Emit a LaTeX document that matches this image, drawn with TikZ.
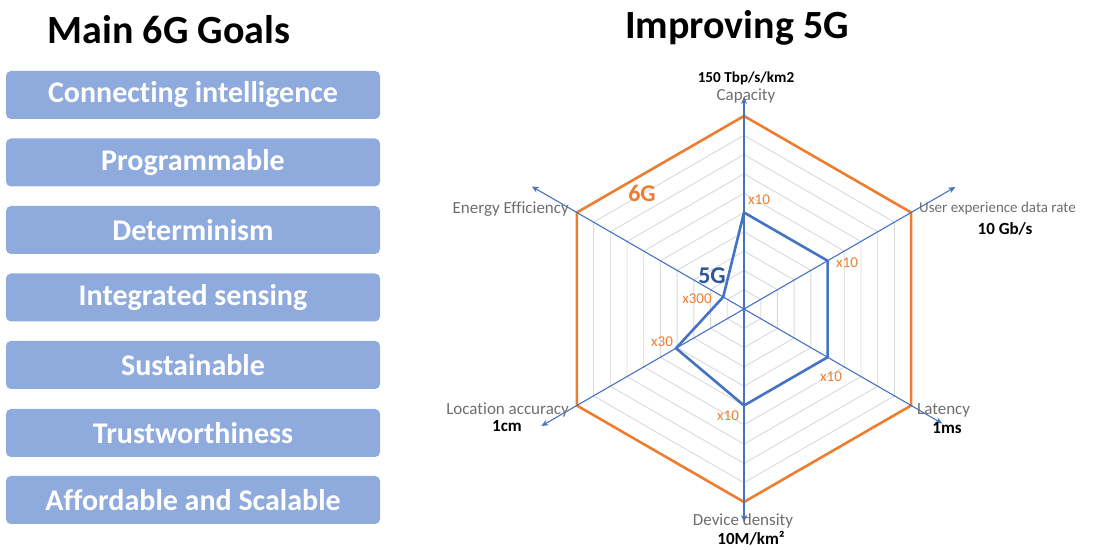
\documentclass[tikz,border=0pt]{standalone}
\usepackage{fontspec}
\setmainfont{Carlito}[Ligatures=NoCommon]
\usetikzlibrary{arrows.meta,calc}
\definecolor{boxblue}{HTML}{8FAADC}
\definecolor{axblue}{HTML}{4472C4}
\definecolor{fgorange}{HTML}{ED7D31}
\definecolor{gridgray}{HTML}{D9D9D9}
\definecolor{lblgray}{HTML}{6E6E6E}
\definecolor{darkblue}{HTML}{2F5597}
\tikzset{
  goal/.style={fill=boxblue, rounded corners=5pt, minimum width=374pt, minimum height=48pt,
    text=white, font=\fontsize{30}{32}\selectfont\bfseries, inner sep=0pt},
  title/.style={font=\fontsize{40}{44}\selectfont\bfseries, text=black},
  axlabel/.style={font=\fontsize{17}{19}\selectfont, text=lblgray, inner sep=0pt},
  vallabel/.style={font=\fontsize{17}{19}\selectfont\bfseries, text=black, inner sep=0pt},
  mult/.style={font=\fontsize{15}{17}\selectfont, text=fgorange, inner sep=0pt},
  axisline/.style={draw=axblue, line width=1.1pt, -{Stealth[length=7pt,width=6pt]}},
  gridline/.style={draw=gridgray, line width=0.9pt},
}
\begin{document}
\begin{tikzpicture}[x=1pt,y=1pt]
\useasboundingbox (0,0) rectangle (1106,549);
% titles
\node[title] (t1) at (169,519) {Main 6G Goals};
\node[title] (t2) at (737,521) {Improving 5G};
% goal boxes
\node[goal] (g1) at (193,454) {Connecting intelligence};
\node[goal] (g2) at (193,386.5) {Programmable};
\node[goal] (g3) at (193,319) {Determinism};
\node[goal] (g4) at (193,251.5) {Integrated sensing};
\node[goal] (g5) at (193,184) {Sustainable};
\node[goal] (g6) at (193,116) {Trustworthiness};
\node[goal] (g7) at (193,49) {Affordable and Scalable};
% radar
\coordinate (c) at (744,240);
\foreach \k in {1,...,9}{
  \draw[gridline] ($(c)+(90:\k*19.3)$) \foreach \a in {30,-30,-90,-150,-210}{ -- ($(c)+(\a:\k*19.3)$)} -- cycle;
}
\draw[fgorange, line width=2.6pt, line join=miter] ($(c)+(90:193)$) \foreach \a in {30,-30,-90,-150,-210}{ -- ($(c)+(\a:193)$)} -- cycle;
% axes tips
\coordinate (aCap) at ($(c)+(90:212)$);
\coordinate (aUser) at ($(c)+(30:244)$);
\coordinate (aLat) at ($(c)+(-30:229)$);
\coordinate (aDev) at ($(c)+(-90:213)$);
\coordinate (aLoc) at ($(c)+(210:234)$);
\coordinate (aEn) at ($(c)+(150:245)$);
\foreach \t in {aCap,aUser,aLat,aDev,aLoc,aEn}{ \draw[axisline] (c) -- (\t); }
% 5G polygon
\coordinate (p1) at ($(c)+(90:96.5)$);
\coordinate (p2) at ($(c)+(30:96.5)$);
\coordinate (p3) at ($(c)+(-30:96.5)$);
\coordinate (p4) at ($(c)+(-90:96.5)$);
\coordinate (p5) at ($(c)+(210:78.5)$);
\coordinate (p6) at ($(c)+(150:24)$);
\draw[axblue, line width=2.6pt, line join=round] (p1) -- (p2) -- (p3) -- (p4) -- (p5) -- (p6) -- cycle;
% labels
\node[vallabel, font=\fontsize{15.2}{17}\selectfont\bfseries] (lcapv) at (746,471) {150 Tbp/s/km2};
\node[axlabel] (lcap) at (746,453) {Capacity};
\node[axlabel, anchor=east] (len) at (569,340) {Energy Efficiency};
\node[axlabel, anchor=west, font=\fontsize{15}{17}\selectfont] (luser) at (919,340) {User experience data rate};
\node[vallabel] (luserv) at (1005,320) {10 Gb/s};
\node[axlabel, anchor=west] (llat) at (917,139) {Latency};
\node[vallabel] (llatv) at (947,121) {1ms};
\node[axlabel, anchor=east] (lloc) at (569,139) {Location accuracy};
\node[vallabel] (llocv) at (507,123) {1cm};
\node[axlabel] (ldev) at (743,28) {Device density};
\node[vallabel] (ldevv) at (751,10.5) {10M/km²};
% multipliers
\node[mult] (m1) at (759,349) {x10};
\node[mult] (m2) at (847,286) {x10};
\node[mult] (m3) at (831,172) {x10};
\node[mult] (m4) at (728,133) {x10};
\node[mult] (m5) at (662,207) {x30};
\node[mult] (m6) at (697,250) {x300};
\node[font=\fontsize{24}{26}\selectfont\bfseries, text=darkblue, inner sep=0pt] (l5g) at (712,273) {5G};
\node[font=\fontsize{24}{26}\selectfont\bfseries, text=fgorange, inner sep=0pt] (l6g) at (642,356) {6G};
\end{tikzpicture}
\end{document}
